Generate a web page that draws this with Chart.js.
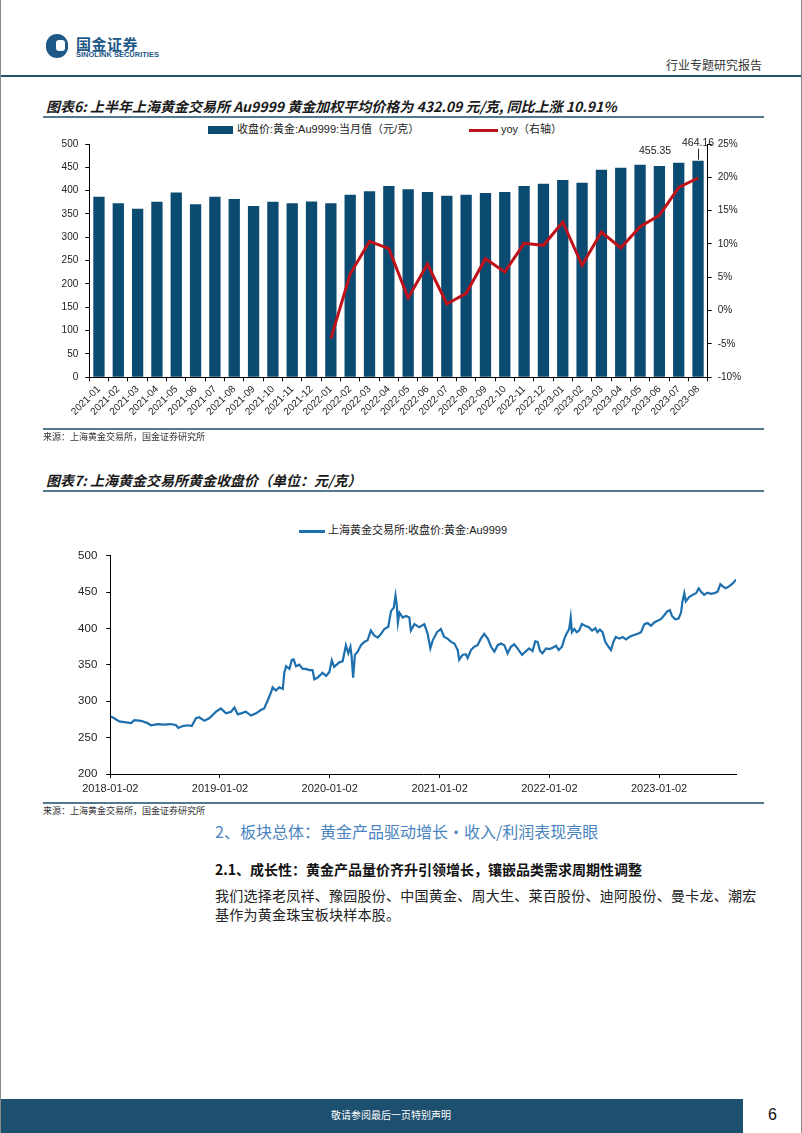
<!DOCTYPE html>
<html>
<head>
<meta charset="utf-8">
<script src="https://cdn.jsdelivr.net/npm/chart.js@4.4.0/dist/chart.umd.min.js"></script>
<style>
  body { margin: 0; background: #fff; }
  #page {
    position: relative; width: 802px; height: 1133px; overflow: hidden;
    box-sizing: border-box; border-left: 1px solid #8a8a8a; border-right: 1px solid #8a8a8a;
    font-family: "Noto Sans CJK SC", "Liberation Sans", sans-serif; color: #222;
  }
  .abs { position: absolute; white-space: nowrap; line-height: 1; }
  .rule { position: absolute; left: 42px; width: 721px; height: 2px; background: #53798d; }
  .figTitle { font-size: 14px; font-weight: 700; font-style: italic; color: #1a1a1a; left: 45px; }
  .source { font-size: 9px; color: #333; left: 42px; }
  .legend { font-family: "Liberation Sans", Arial, "Noto Sans CJK SC", sans-serif; font-size: 11px; color: #222; }
</style>
</head>
<body>
<div id="page">
  <!-- header -->
  <div class="abs" style="left:45px;top:34px;width:22px;height:24px;border-radius:11px;background:#1d5886;"></div>
  <div class="abs" style="left:55px;top:40px;width:9px;height:11px;border-radius:3px;background:#fff;"></div>
  <div class="abs" style="left:75px;top:36px;font-size:15px;font-weight:700;color:#1d5886;letter-spacing:0.5px;">国金证券</div>
  <div class="abs" style="left:75px;top:51px;font-family:'Liberation Sans Narrow','Liberation Sans',sans-serif;font-size:7.5px;font-weight:700;color:#1d5886;">SINOLINK SECURITIES</div>
  <div class="abs" style="left:665px;top:59px;font-size:12px;color:#333;">行业专题研究报告</div>
  <div class="abs" style="left:0;top:75px;width:802px;height:2px;background:#23536f;"></div>

  <!-- figure 6 -->
  <div class="abs figTitle" style="top:99px;">图表6: 上半年上海黄金交易所 Au9999 黄金加权平均价格为 432.09 元/克, 同比上涨 10.91%</div>
  <div class="rule" style="top:116px;"></div>
  <div class="abs" style="left:207px;top:126px;width:25px;height:8px;background:#0b4b71;"></div>
  <div class="abs legend" style="left:236px;top:124px;">收盘价:黄金:Au9999:当月值（元/克）</div>
  <div class="abs" style="left:468px;top:129px;width:29px;height:3px;background:#c0121b;"></div>
  <div class="abs legend" style="left:500px;top:124px;">yoy（右轴）</div>
  <div class="abs" style="left:0;top:120px;width:802px;height:310px;"><canvas id="barChart"></canvas></div>
  <div class="rule" style="top:428px;"></div>
  <div class="abs source" style="top:432px;">来源：上海黄金交易所，国金证券研究所</div>

  <!-- figure 7 -->
  <div class="abs figTitle" style="top:473px;">图表7: 上海黄金交易所黄金收盘价（单位：元/克）</div>
  <div class="rule" style="top:490px;"></div>
  <div class="abs" style="left:298px;top:530px;width:26px;height:2.5px;background:#1d6fae;"></div>
  <div class="abs legend" style="left:327px;top:525px;">上海黄金交易所:收盘价:黄金:Au9999</div>
  <div class="abs" style="left:0;top:540px;width:802px;height:262px;"><canvas id="lineChart"></canvas></div>
  <div class="rule" style="top:802px;"></div>
  <div class="abs source" style="top:806px;">来源：上海黄金交易所，国金证券研究所</div>

  <!-- text -->
  <div class="abs" style="left:214px;top:823px;font-size:16px;color:#4a84c0;">2、板块总体：黄金产品驱动增长·收入/利润表现亮眼</div>
  <div class="abs" style="left:214px;top:862px;font-size:14px;font-weight:700;color:#111;">2.1、成长性：黄金产品量价齐升引领增长，镶嵌品类需求周期性调整</div>
  <div class="abs" style="left:214px;top:886px;font-size:14px;line-height:19px;color:#222;letter-spacing:0.25px;">我们选择老凤祥、豫园股份、中国黄金、周大生、莱百股份、迪阿股份、曼卡龙、潮宏<br>基作为黄金珠宝板块样本股。</div>

  <!-- footer -->
  <div class="abs" style="left:0;top:1099px;width:742px;height:34px;background:#1d4f6f;"></div>
  <div class="abs" style="left:330px;top:1110px;font-size:10px;color:#fff;">敬请参阅最后一页特别声明</div>
  <div class="abs" style="left:767px;top:1107px;font-size:16px;color:#111;font-family:'Liberation Sans',sans-serif;">6</div>
</div>

<script>
// ---- figure 6: monthly close and yoy ----
const months = ['2021-01','2021-02','2021-03','2021-04','2021-05','2021-06','2021-07','2021-08','2021-09','2021-10','2021-11','2021-12',
  '2022-01','2022-02','2022-03','2022-04','2022-05','2022-06','2022-07','2022-08','2022-09','2022-10','2022-11','2022-12',
  '2023-01','2023-02','2023-03','2023-04','2023-05','2023-06','2023-07','2023-08'];
const monthlyClose = [387, 373, 361, 376, 396, 371, 387, 382, 367, 376, 373, 377,
  373, 391, 399, 410, 403, 397, 389, 391, 395, 397, 410, 415,
  423, 417, 445, 449, 455.35, 453, 460, 464.16];
const yoyPct = [null, null, null, null, null, null, null, null, null, null, null, null,
  -4.2, 5.5, 10.4, 9.3, 1.9, 7.0, 1.0, 2.6, 7.8, 5.8, 10.1, 9.8,
  13.3, 6.8, 11.8, 9.4, 12.6, 14.3, 18.5, 19.9];
const labelledMonths = ['2023-05', '2023-08'];

// ---- figure 7: daily close (days counted from 2018-01-02) ----
const priceDays = [2, 13, 30, 47, 69, 80, 102, 124, 135, 158, 180, 202, 219, 226, 241, 258, 271, 285, 296, 313,
  329, 341, 352, 368, 385, 402, 413, 424, 435, 451, 468, 485, 501, 512, 524, 535, 540, 551, 562, 574,
  579, 585, 596, 604, 610, 618, 629, 640, 651, 662, 673, 679, 690, 701, 706, 718, 729, 737, 745, 762,
  773, 784, 792, 799, 803, 808, 814, 823, 834, 845, 856, 867, 878, 890, 901, 912, 925, 934, 943, 949,
  953, 957, 962, 973, 984, 995, 1000, 1012, 1028, 1045, 1056, 1065, 1073, 1087, 1100, 1111, 1122, 1134, 1145, 1156,
  1161, 1172, 1183, 1189, 1200, 1211, 1222, 1233, 1244, 1256, 1267, 1278, 1289, 1300, 1311, 1322, 1333, 1344, 1355, 1370,
  1383, 1394, 1405, 1414, 1422, 1430, 1438, 1450, 1461, 1472, 1483, 1492, 1503, 1511, 1518, 1527, 1532, 1536, 1544, 1552,
  1560, 1569, 1580, 1592, 1603, 1614, 1621, 1629, 1638, 1647, 1658, 1666, 1674, 1682, 1694, 1705, 1716, 1727, 1738, 1755,
  1766, 1777, 1788, 1799, 1810, 1821, 1832, 1843, 1854, 1862, 1869, 1880, 1891, 1899, 1904, 1910, 1915, 1926, 1938, 1949,
  1958, 1965, 1976, 1987, 1999, 2010, 2021, 2030, 2040, 2048, 2060, 2071, 2082];
const closePrices = [279, 276.7, 272.3, 271.4, 270, 274, 273.2, 270, 267, 268.7, 267.9, 268.7, 267, 263.4, 266, 267, 266, 276.7, 278, 273.2,
  276.7, 281.3, 285.7, 290.1, 283.4, 285.7, 291.5, 282.1, 283.4, 285.7, 280.4, 283.4, 288, 290.1, 301.4, 312.5, 319.2, 314.8, 319.2, 317,
  339.3, 348.2, 344.6, 357, 357.6, 348.2, 350.4, 344.6, 344.6, 342.9, 342.9, 330.3, 332.6, 337, 339.3, 334.9, 340.2, 356.3, 347.3, 353.6,
  355, 377.2, 366.1, 375, 361.6, 332.6, 363.8, 368.3, 377.2, 381.7, 383.9, 397.3, 390.6, 387.5, 392.8, 399.5, 402.6, 424, 428.6, 445.5,
  433, 408.5, 421.9, 415.2, 417.4, 415.2, 397.3, 406.2, 401.8, 406.2, 392.8, 372.8, 383.9, 395.1, 399.5, 388.4, 386.2, 381.7, 379.5, 370.5,
  357.1, 363.8, 364.7, 359.4, 370.5, 375, 377.2, 386.2, 392.8, 386.2, 375, 368.3, 377.2, 379.5, 377.2, 366.1, 375, 378.4, 372.8, 363.8,
  369, 372.8, 369.2, 382.6, 381.7, 369.2, 366.1, 372.8, 371.8, 373.7, 376.4, 370.5, 375, 386.2, 392.8, 399.5, 415.2, 395.1, 399.5, 395.1,
  397.3, 406.2, 404, 401.8, 397.3, 400.5, 395.1, 398.6, 395.1, 381.7, 375, 370.5, 381.7, 388.4, 386.2, 388.4, 385.2, 388.4, 390.6, 392.8,
  395.1, 406.2, 407.6, 404, 408.5, 410.7, 412.9, 418.3, 424, 425.4, 417.4, 412.9, 413.9, 421.9, 437.5, 448.7, 437.5, 443.3, 446.4, 448.7,
  455.4, 450.9, 446.4, 449.5, 447.8, 448.7, 450.9, 461.1, 457.5, 455.4, 458.5, 462.1, 467.4];
const xTickDays = [0, 365, 730, 1096, 1461, 1826];
const xTickLabels = ['2018-01-02', '2019-01-02', '2020-01-02', '2021-01-02', '2022-01-02', '2023-01-02'];

Chart.defaults.font.family = '"Liberation Sans", Arial, "Noto Sans CJK SC", sans-serif';
Chart.defaults.color = '#222';
Chart.defaults.animation = false;

const tickGrid = { drawOnChartArea: false, drawTicks: true, tickLength: 4, color: '#000' };
const axisBorder = { display: true, color: '#000', width: 1 };

// value labels above a couple of bars
const valueLabels = {
  id: 'valueLabels',
  afterDatasetsDraw(chart) {
    const ctx = chart.ctx;
    const xs = chart.scales.x;
    const ys = chart.scales.y;
    ctx.save();
    ctx.font = '10.5px "Liberation Sans", Arial, sans-serif';
    ctx.fillStyle = '#222';
    ctx.textAlign = 'center';
    ctx.textBaseline = 'bottom';
    labelledMonths.forEach((m, k) => {
      const i = months.indexOf(m);
      const x = xs.getPixelForValue(i);
      const y = ys.getPixelForValue(monthlyClose[i]);
      const text = monthlyClose[i].toFixed(2);
      if (k === 0) {
        ctx.fillText(text, x + 15, y - 8);
      } else {
        ctx.fillText(text, x, y - 12);
        ctx.strokeStyle = '#222';
        ctx.lineWidth = 1;
        ctx.beginPath();
        ctx.moveTo(x + 0.5, y - 12);
        ctx.lineTo(x + 0.5, y - 1);
        ctx.stroke();
      }
    });
    ctx.restore();
  }
};

new Chart('barChart', {
  type: 'bar',
  data: {
    labels: months,
    datasets: [{
      type: 'line',
      label: 'yoy（右轴）',
      data: yoyPct,
      yAxisID: 'y1',
      borderColor: '#c0121b',
      borderWidth: 3,
      pointRadius: 0,
      tension: 0,
      order: 0
    }, {
      label: '收盘价:黄金:Au9999:当月值（元/克）',
      data: monthlyClose,
      yAxisID: 'y',
      backgroundColor: '#0b4b71',
      barPercentage: 0.585,
      categoryPercentage: 1,
      order: 1
    }]
  },
  options: {
    responsive: true,
    maintainAspectRatio: false,
    layout: { padding: { top: 24, left: 0, right: 0, bottom: 0 } },
    plugins: { legend: { display: false }, tooltip: { enabled: false } },
    scales: {
      x: {
        grid: { ...tickGrid, offset: true },
        border: axisBorder,
        ticks: { font: { size: 10 }, minRotation: 45, maxRotation: 45, autoSkip: false, padding: 2 },
        afterFit: s => { s.height = 52.7; }
      },
      y: {
        position: 'left',
        min: 0, max: 500,
        grid: tickGrid,
        border: axisBorder,
        ticks: { stepSize: 50, font: { size: 10 }, padding: 7 },
        afterFit: s => { s.width = 88.3; }
      },
      y1: {
        position: 'right',
        min: -10, max: 25,
        grid: tickGrid,
        border: axisBorder,
        ticks: { stepSize: 5, font: { size: 10 }, padding: 6, callback: v => v + '%' },
        afterFit: s => { s.width = 95.3; }
      }
    }
  },
  plugins: [valueLabels]
});

new Chart('lineChart', {
  type: 'line',
  data: {
    datasets: [{
      label: '上海黄金交易所:收盘价:黄金:Au9999',
      data: priceDays.map((d, i) => ({ x: d, y: closePrices[i] })),
      borderColor: '#1d6fae',
      borderWidth: 2.2,
      pointRadius: 0,
      tension: 0
    }]
  },
  options: {
    responsive: true,
    maintainAspectRatio: false,
    layout: { padding: { top: 10, left: 0, right: 67, bottom: 0 } },
    plugins: { legend: { display: false }, tooltip: { enabled: false } },
    scales: {
      x: {
        type: 'linear',
        min: 0, max: 2082,
        grid: tickGrid,
        border: axisBorder,
        afterBuildTicks: s => { s.ticks = xTickDays.map(v => ({ value: v })); },
        ticks: {
          font: { size: 11 }, padding: 4, maxRotation: 0, autoSkip: false,
          callback: v => xTickLabels[xTickDays.indexOf(v)] || ''
        },
        afterFit: s => { s.height = 28; }
      },
      y: {
        min: 200, max: 500,
        grid: tickGrid,
        border: axisBorder,
        ticks: { stepSize: 50, font: { size: 11.5 }, padding: 9 },
        afterFit: s => { s.width = 109.3; }
      }
    }
  }
});
</script>
</body>
</html>
